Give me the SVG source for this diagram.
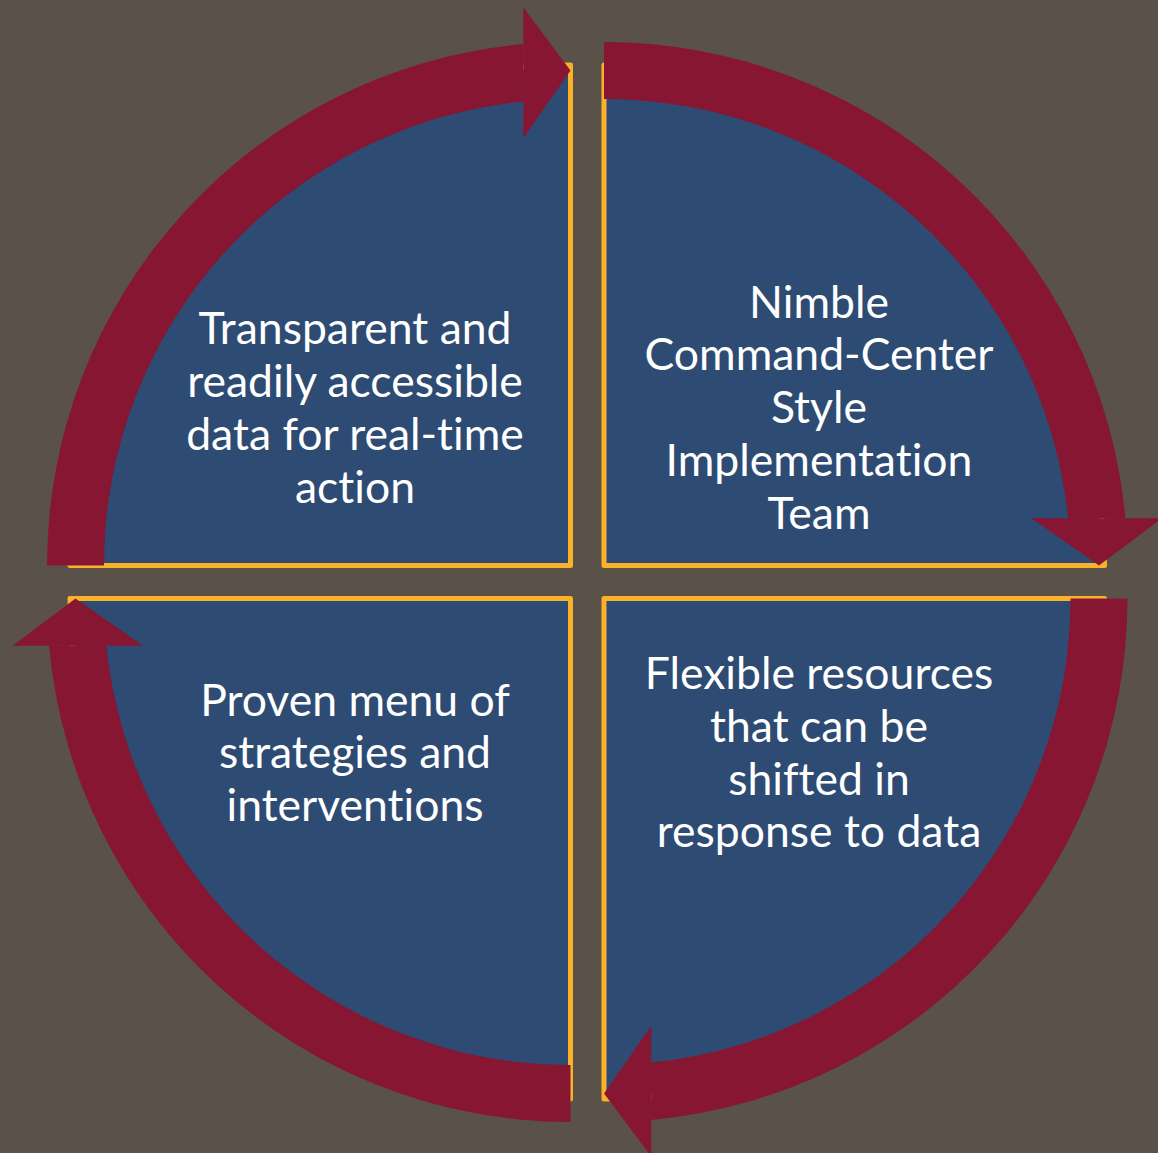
<svg xmlns="http://www.w3.org/2000/svg" width="1158" height="1153" viewBox="0 0 1158 1153">
<style>
.pie{fill:#2E4B73;stroke:#FBB229;stroke-width:5;stroke-linejoin:round}
.arc{fill:#871633}
.lbl{font-family:Lato,"Open Sans","Liberation Sans",sans-serif;font-size:44.5px;fill:#FFFFFF;text-anchor:middle;font-variant-ligatures:none}
</style>
<rect x="0" y="0" width="1158" height="1153" fill="#5A5148"/>
<g id="node-tl">
<path class="pie" d="M 570.5 565.5 L 70 565.5 A 500.5 500.5 0 0 1 570.5 65 Z"/>
<text class="lbl" x="355" y="344">Transparent and</text>
<text class="lbl" x="355" y="397">readily accessible</text>
<text class="lbl" x="355" y="450">data for real-time</text>
<text class="lbl" x="355" y="503">action</text>
</g>
<g id="node-tr">
<path class="pie" d="M 604 565.5 L 604 65 A 500.5 500.5 0 0 1 1104.5 565.5 Z"/>
<text class="lbl" x="819" y="318">Nimble</text>
<text class="lbl" x="819" y="370">Command-Center</text>
<text class="lbl" x="819" y="423">Style</text>
<text class="lbl" x="819" y="476">Implementation</text>
<text class="lbl" x="819" y="529">Team</text>
</g>
<g id="node-br">
<path class="pie" d="M 604 598.5 L 1104.5 598.5 A 500.5 500.5 0 0 1 604 1099 Z"/>
<text class="lbl" x="819" y="689">Flexible resources</text>
<text class="lbl" x="819" y="742">that can be</text>
<text class="lbl" x="819" y="795">shifted in</text>
<text class="lbl" x="819" y="847">response to data</text>
</g>
<g id="node-bl">
<path class="pie" d="M 570.5 598.5 L 570.5 1099 A 500.5 500.5 0 0 1 70 598.5 Z"/>
<text class="lbl" x="355" y="716">Proven menu of</text>
<text class="lbl" x="355" y="768">strategies and</text>
<text class="lbl" x="355" y="821">interventions</text>
</g>
<g id="connectors">
<path class="arc" d="M 47 565.5 A 523.5 523.5 0 0 1 523.3 44.1 L 523.3 101.4 A 466.5 466.5 0 0 0 104 565.5 Z"/>
<polygon class="arc" points="523.3,7.5 570.5,70.5 523.3,138.1"/>
<path class="arc" d="M 604 42 A 523.5 523.5 0 0 1 1125.4 518.3 L 1068.1 518.3 A 466.5 466.5 0 0 0 604 99 Z"/>
<polygon class="arc" points="1031.4,518.3 1099,565.5 1162,518.3"/>
<path class="arc" d="M 1127.5 598.5 A 523.5 523.5 0 0 1 651.2 1119.9 L 651.2 1062.6 A 466.5 466.5 0 0 0 1070.5 598.5 Z"/>
<polygon class="arc" points="651.2,1025.9 604,1093.5 651.2,1156.5"/>
<path class="arc" d="M 570.5 1122 A 523.5 523.5 0 0 1 49.1 645.7 L 106.4 645.7 A 466.5 466.5 0 0 0 570.5 1065 Z"/>
<polygon class="arc" points="12.5,645.7 75.5,598.5 143.1,645.7"/>
</g>
</svg>
